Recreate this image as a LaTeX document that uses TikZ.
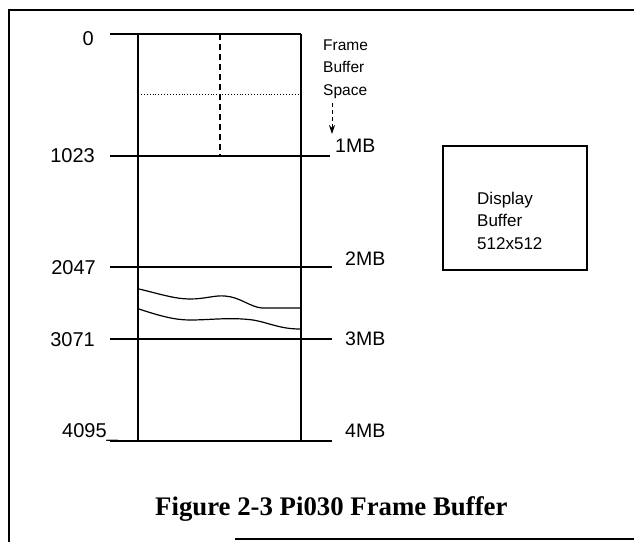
\documentclass[tikz,border=0pt]{standalone}
\usepackage{fontspec}
\setmainfont{Liberation Sans}
\newfontfamily\capfont{Liberation Serif}
\usetikzlibrary{arrows.meta}
\tikzset{
  frameline/.style={line width=1.4pt},
  memline/.style={line width=1.1pt},
  lbl/.style={inner sep=0pt, anchor=base east, font=\fontsize{20}{24}\selectfont},
  mblbl/.style={inner sep=0pt, anchor=base west, font=\fontsize{19.5}{23}\selectfont},
  fbtext/.style={inner sep=0pt, anchor=base west, font=\fontsize{15.5}{19}\selectfont},
  disptext/.style={inner sep=0pt, anchor=base west, font=\fontsize{17}{20}\selectfont},
  captext/.style={inner sep=0pt, anchor=base west, font=\capfont\bfseries\fontsize{26.8}{30}\selectfont},
}
\begin{document}
\begin{tikzpicture}[x=1pt,y=-1pt]
\useasboundingbox (0,0) rectangle (634,542);
\fill[white] (0,0) rectangle (634,542);
% outer frame
\coordinate (fTR) at (634,10);
\coordinate (fTL) at (9,10);
\coordinate (fBL) at (9,542);
\coordinate (fB1) at (235,539);
\coordinate (fB2) at (634,539);
\draw[frameline] (fTR) -- (fTL) -- (fBL);
\draw[frameline] (fB1) -- (fB2);
% memory column
\coordinate (TL) at (138,34);
\coordinate (TR) at (301,34);
\coordinate (BL) at (138,441);
\coordinate (BR) at (301,441);
\draw[memline] (TL) -- (BL);
\draw[memline] (TR) -- (BR);
\coordinate (l0a) at (110,34);
\coordinate (l1a) at (110,156); \coordinate (l1b) at (330,156);
\coordinate (l2a) at (110,267); \coordinate (l2b) at (332,267);
\coordinate (l3a) at (110,339); \coordinate (l3b) at (332,339);
\coordinate (l4a) at (110,441); \coordinate (l4b) at (332,441);
\draw[memline] (l0a) -- (TR);
\draw[memline] (l1a) -- (l1b);
\draw[memline] (l2a) -- (l2b);
\draw[memline] (l3a) -- (l3b);
\draw[memline] (l4a) -- (l4b);
% dashed centre and dotted split
\coordinate (cT) at (220,34);
\coordinate (cB) at (220,156);
\draw[line width=1.1pt, dash pattern=on 6pt off 4pt] (cT) -- (cB);
\coordinate (dL) at (138,94);
\coordinate (dR) at (301,94);
\draw[line width=0.9pt, dotted] (dL) -- (dR);
% wavy lines
\draw[line width=1.2pt] (139,289) .. controls (160,294) and (175,299) .. (190,299)
  .. controls (205,299) and (215,295) .. (225,296)
  .. controls (240,297) and (250,307) .. (262,308) -- (300,308);
\draw[line width=1.2pt] (139,309) .. controls (160,316) and (175,320) .. (190,320)
  .. controls (210,320) and (230,317) .. (253,320)
  .. controls (270,323) and (280,329) .. (300,329);
% arrow
\coordinate (arT) at (332,103);
\coordinate (arB) at (332,134);
\draw[line width=0.9pt, dash pattern=on 4pt off 3pt, -{Stealth[length=9pt,width=6pt]}] (arT) -- (arB);
% left labels
\node[lbl] (n0) at (94,45) {0};
\node[lbl] (n1023) at (95,162) {1023};
\node[lbl] (n2047) at (96,274) {2047};
\node[lbl] (n3071) at (95,346) {3071};
\node[lbl] (n4095) at (118,437) {4095\_};
% right labels
\node[mblbl] (m1) at (335,152) {1MB};
\node[mblbl] (m2) at (345,265) {2MB};
\node[mblbl] (m3) at (345,345) {3MB};
\node[mblbl] (m4) at (345,437) {4MB};
\node[fbtext] (fb1) at (323,50.5) {Frame};
\node[fbtext] (fb2) at (323,72.5) {Buffer};
\node[fbtext] (fb3) at (323,95.5) {Space};
% display buffer
\coordinate (dbTL) at (443,146);
\coordinate (dbBR) at (587,270);
\draw[memline] (dbTL) rectangle (dbBR);
\node[disptext] (db1) at (477,204) {Display};
\node[disptext] (db2) at (477,226) {Buffer};
\node[disptext] (db3) at (477,249) {512x512};
% caption
\node[captext] (cap) at (155,515) {Figure 2-3 Pi030 Frame Buffer};
\end{tikzpicture}
\end{document}
